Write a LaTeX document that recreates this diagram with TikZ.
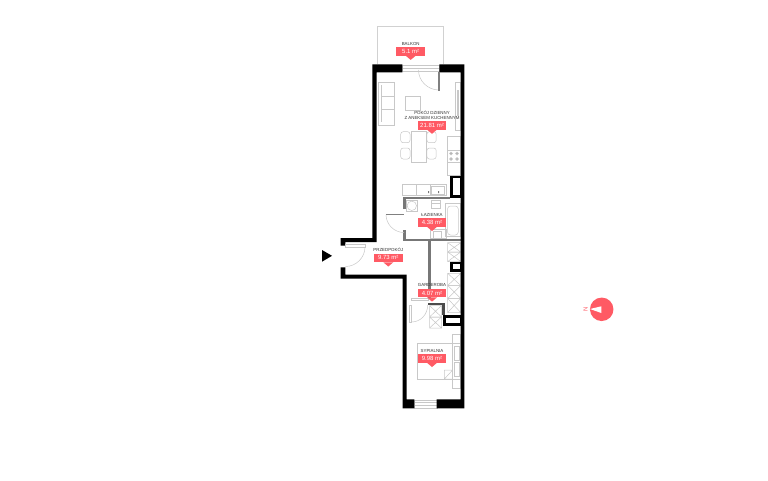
\documentclass[tikz,border=0pt]{standalone}
\usepackage{fontspec}
\setmainfont{Liberation Sans}
\definecolor{lab}{HTML}{FF5A64}
\definecolor{furn}{HTML}{C8C8C8}
\definecolor{iw}{HTML}{777777}
\tikzset{
 x=1pt,y=-1pt,
 wall/.style={fill=black,draw=none},
 furnline/.style={draw=furn,line width=0.5pt},
 inner/.style={draw=iw,line width=2.7pt},
 shaft/.style={draw=black,line width=2.6pt},
 doorline/.style={draw=furn,line width=0.5pt},
 leaf/.style={draw=gray,line width=0.5pt,fill=white},
 roomname/.style={font=\fontsize{4.4}{5}\selectfont,text=black!80,inner sep=0pt,align=center},
 area/.style={font=\fontsize{6}{7}\selectfont,text=white,inner sep=0pt,minimum width=28.6pt,minimum height=8.8pt,fill=lab},
 pointer/.style={fill=lab,draw=none}
}
\newcommand{\roomlabel}[5]{% id, x, rect top y, name, area
 \node[area,anchor=north] (#1) at (#2,#3) {#5};
 \fill[pointer] (#1.south)+(-5,-0.2) -- +(5,-0.2) -- +(0,4) -- cycle;
 \node[roomname,anchor=south] (#1n) at (#2,#3-1.2) {#4};
}
\newcommand{\crossbox}[4]{\draw[furnline] (#1,#2) rectangle (#3,#4) (#1,#2) -- (#3,#4) (#1,#4) -- (#3,#2);}
\begin{document}
\begin{tikzpicture}
\useasboundingbox (0,0) rectangle (768,480);
\fill[white] (0,0) rectangle (768,480);
% balcony
\draw[draw=black!18,line width=1pt] (377,64) -- (377,26) -- (443.5,26) -- (443.5,64);
% furniture: living room
\draw[furnline] (378.5,82) rectangle (394,125);
\draw[furnline] (381,85) -- (381,122) (381,96.5) -- (394,96.5) (381,109.5) -- (394,109.5);
\draw[furnline] (405.5,96) rectangle (420,110.5);
\draw[furnline] (411,131) rectangle (426.7,162.3);
\foreach \cx in {400.7,426.9}{\foreach \cy in {131.7,148}{
 \draw[furnline,rounded corners=2.5pt] (\cx,\cy) rectangle (\cx+9.3,\cy+11);}}
% kitchen
\draw[furnline] (455.7,82) rectangle (460.7,130);
\fill[furn] (456.8,90) rectangle (459,116);
\draw[furnline] (447.7,136.7) rectangle (460.7,175.5);
\draw[furnline] (447.7,150.5) -- (460.7,150.5) (447.7,162.3) -- (460.7,162.3);
\foreach \hx in {451,457}{\foreach \hy in {153.5,159}{\draw[furnline,fill=black!30] (\hx,\hy) circle (1.5pt);}}
\draw[furnline] (402.7,184) rectangle (446,195.5);
\draw[furnline] (416,184) -- (416,195.5) (430,184) -- (430,195.5);
\draw[furnline] (431.5,186) rectangle (444,194);
\fill[furn!60!black] (428,191) rectangle (429,193) (438,191) rectangle (439,193);
% bathroom
\draw[furnline] (406,200) rectangle (417.7,211.7);
\draw[furnline] (411.8,205.8) circle (4.7pt);
\draw[furnline] (431.7,200) rectangle (440,208);
\draw[furnline] (431.7,203) -- (440,203);
\draw[furnline] (445.7,203.3) rectangle (460,236.7);
\draw[furnline,rounded corners=3pt] (447.5,206) rectangle (458.3,235);
\draw[furnline] (430,229) rectangle (446,238);
\draw[furnline] (433,231) rectangle (441,238);
% closets
\crossbox{447.7}{242.7}{460.7}{252}
\crossbox{447.7}{252}{460.7}{261.5}
\crossbox{447.7}{273.3}{460.7}{285.5}
\crossbox{447.7}{285.5}{460.7}{298.5}
\crossbox{447.7}{298.5}{460.7}{312.5}
\crossbox{429.5}{305.5}{441.5}{317}
\crossbox{429.5}{317}{441.5}{328}
% bedroom
\draw[furnline] (417.7,343.3) rectangle (452.7,379);
\draw[furnline] (444.3,370) rectangle (452.7,379) (444.3,379) -- (452.7,370);
\draw[furnline] (452.7,334) rectangle (460.7,343.3);
\draw[furnline] (452.7,379) rectangle (460.7,388.3);
\draw[furnline] (452.7,343.3) rectangle (460.7,379);
\draw[furnline] (454,346) rectangle (459.5,360) (454,362) rectangle (459.5,376);
% windows
\draw[furnline] (402,65) rectangle (439.5,71.5);
\draw[furnline] (402,68) -- (439.5,68);
\draw[furnline] (414,400) rectangle (437,408);
\draw[furnline] (414,402.5) -- (437,402.5) (414,405) -- (437,405);
% inner walls
\draw[inner] (404.8,209) -- (404.8,198) -- (450,198);
\draw[inner] (404.8,230) -- (404.8,240) -- (461,240);
\draw[inner] (429.5,240) -- (429.5,298.5);
\draw[inner,draw=black!70] (428,304) -- (443.7,304) -- (443.7,315);
% shafts
\draw[shaft] (451.2,176.9) rectangle (461,196.6);
\draw[shaft] (451.2,262.9) rectangle (461,270.6);
\draw[shaft] (444.5,316.2) rectangle (461,324.5);
% outer walls
\fill[wall] (372.3,64.3) -- (402.3,64.3) -- (402.3,72.3) -- (376.7,72.3) -- (376.7,242) -- (345.3,242) -- (345.3,245.7) -- (340.7,245.7) -- (340.7,238) -- (372.3,238) -- cycle;
\fill[wall] (439.3,64.3) -- (464.3,64.3) -- (464.3,408.3) -- (436.7,408.3) -- (436.7,399.3) -- (460.7,399.3) -- (460.7,72.3) -- (439.3,72.3) -- cycle;
\fill[wall] (340.7,267.3) -- (345.3,267.3) -- (345.3,274.5) -- (406.5,274.5) -- (406.5,399.3) -- (414.3,399.3) -- (414.3,408.3) -- (402.7,408.3) -- (402.7,278.5) -- (340.7,278.5) -- cycle;
% doors
\draw[doorline] (418.5,70) .. controls (418.5,81) and (427.7,90) .. (439,90);
\draw[leaf] (438.6,72) rectangle (439.4,90);
\draw[doorline] (386,214.5) .. controls (386,224.4) and (394.1,232.5) .. (404,232.5);
\draw[doorline,draw=gray] (386,214.5) -- (403.5,214.5);
\draw[doorline] (365,247) .. controls (365,257.5) and (356.2,266.5) .. (345.5,266.5);
\draw[leaf,draw=furn] (345.3,244.7) rectangle (365,247.2);
\draw[doorline] (411.5,322) .. controls (420.5,322) and (427.7,314.5) .. (427.7,305);
\draw[leaf,draw=furn] (409,305) rectangle (411.3,322);
\draw[leaf,draw=furn] (411.7,298.3) rectangle (428.2,300.3);
% labels
\roomlabel{balkon}{410.7}{46.7}{BALKON}{5.1 m²}
\roomlabel{pokoj}{432}{120.6}{POKÓJ DZIENNY\\Z ANEKSEM KUCHENNYM}{21.81 m²}
\roomlabel{laz}{432}{217.8}{ŁAZIENKA}{4.38 m²}
\roomlabel{przed}{388.3}{253.3}{PRZEDPOKÓJ}{9.73 m²}
\roomlabel{gard}{432}{288.4}{GARDEROBA}{4.07 m²}
\roomlabel{syp}{432}{353.8}{SYPIALNIA}{9.98 m²}
% entrance arrow
\fill[black] (322,250) -- (332,255.8) -- (322,261.7) -- cycle;
% compass
\node[circle,fill=lab,minimum size=23.5pt,inner sep=0pt] (comp) at (601.7,309.3) {};
\fill[white] (590,309) -- (601.3,306.3) -- (601.3,313) -- cycle;
\node[rotate=90,font=\fontsize{6}{7}\selectfont,text=lab,inner sep=0pt] (north) at (585.5,309.3) {N};
\end{tikzpicture}
\end{document}
